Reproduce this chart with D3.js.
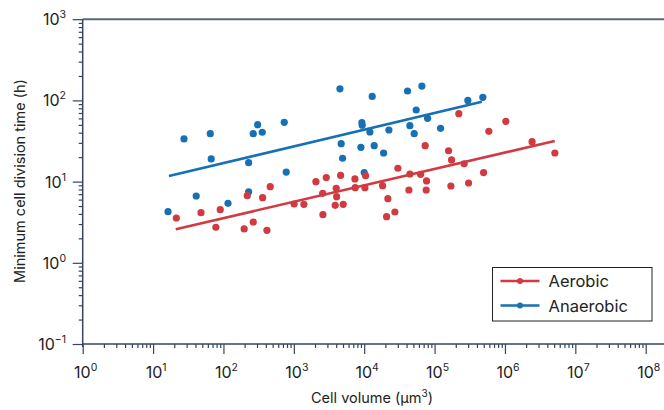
<!DOCTYPE html>
<html>
<head>
<meta charset="utf-8">
<script src="https://cdn.jsdelivr.net/npm/d3@7"></script>
<style>
  body { margin: 0; background: #fff; }
  svg { font-family: Inter, "Noto Sans", sans-serif; }
</style>
</head>
<body>
<svg width="664" height="410"></svg>
<script>
// cell volume (um^3) and minimum division time (h)
var aerobicVolume = [21.4, 48, 78, 90, 197, 218, 265, 360, 415, 462, 1010, 1390, 2060, 2570, 2590, 2890,
	3870, 4000, 4060, 4620, 5030, 7380, 7450, 10470, 10230, 18250, 20800, 21700, 27300, 30100,
	43200, 44600, 63300, 73500, 76000, 76900, 158000, 170500, 174300, 221000, 263000, 304000,
	497000, 590000, 1030000, 2430000, 5120000];
var aerobicTime = [3.56, 4.14, 2.74, 4.51, 2.61, 6.7, 3.18, 6.34, 2.51, 8.65, 5.3, 5.25, 9.97, 7.18, 3.91, 11.2,
	5.1, 8.27, 6.52, 11.9, 5.25, 10.8, 8.41, 11.8, 8.41, 8.9, 3.7, 6.16, 4.22, 14.6,
	7.88, 12.4, 12.3, 27.7, 7.88, 10.2, 24, 8.83, 18.5, 68.6, 16.6, 9.61,
	12.9, 41.6, 55.3, 31, 22.5];

var anaerobicVolume = [16.3, 27.5, 41, 65, 67, 116, 228, 228, 265, 306, 356, 731, 780, 4520, 4710, 4930,
	8980, 9270, 9370, 10000, 12050, 13000, 13870, 18870, 22440, 41300, 44570, 51300, 54800,
	66000, 79600, 121600, 297000, 485000];
var anaerobicTime = [4.26, 33.5, 6.65, 38.9, 19, 5.4, 7.5, 17.1, 38.9, 50.2, 40.5, 53.7, 13.1, 139, 29.3, 19.4,
	26.4, 53.1, 49.4, 12.9, 40.8, 112, 27.7, 22.5, 43.2, 130.6, 48.8, 38.9, 76.2,
	150, 60.2, 45.3, 100, 109];

// fitted trend lines, start and end in data units
var aerobicFitVolume = [21, 5.1e6];
var aerobicFitTime = [2.59, 31.6];
var anaerobicFitVolume = [16.8, 4.7e5];
var anaerobicFitTime = [11.7, 96];

var xTicks = [1, 10, 100, 1e3, 1e4, 1e5, 1e6, 1e7, 1e8];
var yTicks = [0.1, 1, 10, 100, 1000];
var seriesNames = ["Aerobic", "Anaerobic"];

var red = "#d03a40";
var blue = "#1670b5";
var axisColor = "#36445f";

var svg = d3.select("svg");

var x = d3.scaleLog().domain([1, 1e8]).range([82.7, 645.7]);
var y = d3.scaleLog().domain([0.1, 1000]).range([344, 19.2]);

function minors(lo, hi) {
	var out = [];
	for (var p = lo; p < hi; p *= 10) {
		for (var k = 2; k < 10; k++) out.push(p * k);
	}
	return out;
}

// top frame line
svg.append("line")
	.attr("x1", x(1)).attr("x2", 664)
	.attr("y1", y(1000)).attr("y2", y(1000))
	.attr("stroke", "#5b6780").attr("stroke-width", 2);

// x axis
var xMajor = svg.append("g")
	.attr("transform", "translate(0," + y(0.1) + ")")
	.call(d3.axisBottom(x).tickValues(xTicks).tickSize(10).tickFormat(""));
var xMinor = svg.append("g")
	.attr("transform", "translate(0," + y(0.1) + ")")
	.call(d3.axisBottom(x).tickValues(minors(1, 1e8)).tickSize(4).tickFormat(""));

// y axis
var yMajor = svg.append("g")
	.attr("transform", "translate(" + x(1) + ",0)")
	.call(d3.axisLeft(y).tickValues(yTicks).tickSize(10).tickFormat(""));
var yMinor = svg.append("g")
	.attr("transform", "translate(" + x(1) + ",0)")
	.call(d3.axisLeft(y).tickValues(minors(0.1, 1000)).tickSize(4).tickFormat(""));

svg.selectAll(".domain").remove();
svg.selectAll(".tick line").attr("stroke", axisColor).attr("stroke-width", 1.2);

svg.append("line")
	.attr("x1", x(1)).attr("x2", 664)
	.attr("y1", y(0.1)).attr("y2", y(0.1))
	.attr("stroke", axisColor).attr("stroke-width", 1.5);
svg.append("line")
	.attr("x1", x(1)).attr("x2", x(1))
	.attr("y1", y(1000)).attr("y2", y(0.1) + 3)
	.attr("stroke", axisColor).attr("stroke-width", 1.5);

// tick labels as 10 with superscript
function powLabel(sel) {
	sel.append("tspan").text("10");
	sel.append("tspan")
		.attr("font-size", 10.5)
		.attr("dy", -7)
		.text(function(d) { return String(Math.round(Math.log10(d))).replace("-", "\u2212"); });
}

svg.append("g").selectAll("text")
	.data(xTicks)
	.join("text")
	.attr("x", function(d) { return x(d) + 3; })
	.attr("y", 378)
	.attr("text-anchor", "middle")
	.attr("font-size", 16)
	.attr("fill", "#222")
	.call(powLabel);

svg.append("g").selectAll("text")
	.data(yTicks)
	.join("text")
	.attr("x", 66)
	.attr("y", function(d) { return y(d) + 6; })
	.attr("text-anchor", "end")
	.attr("font-size", 16)
	.attr("fill", "#222")
	.call(powLabel);

// axis titles
var xTitle = svg.append("text")
	.attr("x", 372).attr("y", 403)
	.attr("text-anchor", "middle")
	.attr("font-size", 14.5)
	.attr("fill", "#222");
xTitle.append("tspan").text("Cell volume (\u00b5m");
xTitle.append("tspan").attr("font-size", 10).attr("dy", -6).text("3");
xTitle.append("tspan").attr("dy", 6).text(")");

svg.append("text")
	.attr("transform", "translate(25,181) rotate(-90)")
	.attr("text-anchor", "middle")
	.attr("font-size", 14.5)
	.attr("fill", "#222")
	.text("Minimum cell division time (h)");

// trend lines and points
var line = d3.line()
	.x(function(d) { return x(d[0]); })
	.y(function(d) { return y(d[1]); });

function drawSeries(vol, time, fitVol, fitTime, color) {
	svg.append("g").selectAll("circle")
		.data(d3.zip(vol, time))
		.join("circle")
		.attr("cx", function(d) { return x(d[0]); })
		.attr("cy", function(d) { return y(d[1]); })
		.attr("r", 3.6)
		.attr("fill", color);
	svg.append("path")
		.datum(d3.zip(fitVol, fitTime))
		.attr("d", line)
		.attr("fill", "none")
		.attr("stroke", color)
		.attr("stroke-width", 2.6);
}

drawSeries(anaerobicVolume, anaerobicTime, anaerobicFitVolume, anaerobicFitTime, blue);
drawSeries(aerobicVolume, aerobicTime, aerobicFitVolume, aerobicFitTime, red);

// legend
var legend = svg.append("g").attr("transform", "translate(492.5,267.5)");
legend.append("rect")
	.attr("width", 159.5).attr("height", 53.5)
	.attr("fill", "#fff").attr("stroke", "#222").attr("stroke-width", 1);

var colors = [red, blue];
var item = legend.selectAll(".item")
	.data(seriesNames)
	.join("g")
	.attr("transform", function(d, i) { return "translate(0," + (13.5 + i * 24.5) + ")"; });
item.append("line")
	.attr("x1", 8).attr("x2", 47)
	.attr("stroke", function(d, i) { return colors[i]; })
	.attr("stroke-width", 2.6);
item.append("circle")
	.attr("cx", 27.5).attr("r", 3)
	.attr("fill", function(d, i) { return colors[i]; });
item.append("text")
	.attr("x", 56).attr("y", 6)
	.attr("font-size", 16.5)
	.attr("fill", "#222")
	.text(function(d) { return d; });
</script>
</body>
</html>
